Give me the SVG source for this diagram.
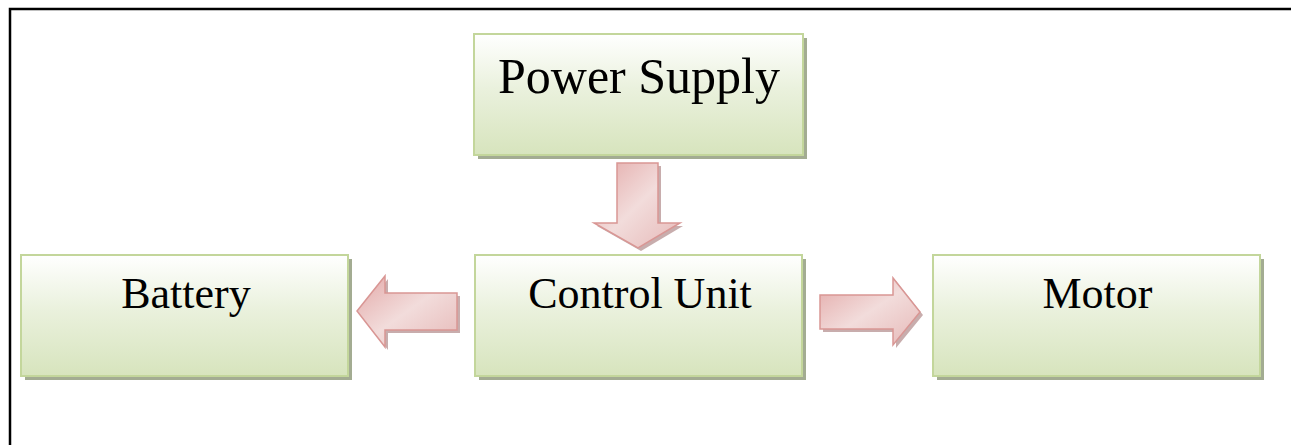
<svg xmlns="http://www.w3.org/2000/svg" width="1291" height="445" viewBox="0 0 1291 445">
<defs>
<linearGradient id="gb" x1="0" y1="0" x2="0" y2="1">
<stop offset="0" stop-color="#ffffff"/>
<stop offset="0.45" stop-color="#eaf1dd"/>
<stop offset="1" stop-color="#d7e4bd"/>
</linearGradient>
<linearGradient id="ga" x1="0" y1="0" x2="1" y2="1">
<stop offset="0" stop-color="#e3a9a8"/>
<stop offset="0.5" stop-color="#f2dcdb"/>
<stop offset="1" stop-color="#e6b9b8"/>
</linearGradient>
<style>
.sh{fill:#a3ac92}
.bx{fill:url(#gb);stroke:#c3d69b;stroke-width:2}
.t{font-family:"Liberation Serif","DejaVu Serif",serif;fill:#000;text-anchor:middle}
.ash{fill:#b08a8a;opacity:0.7}
.ar{fill:url(#ga);stroke:#d99694;stroke-width:1.5}
</style>
</defs>
<rect width="1291" height="445" fill="#fff"/>
<path d="M10,445 V9 H1291" fill="none" stroke="#000" stroke-width="2.5"/>
<g id="power-supply">
<rect class="sh" x="478" y="38" width="329" height="121"/>
<rect class="bx" x="474" y="34" width="329" height="121"/>
<text class="t" x="639" y="93" font-size="50">Power Supply</text>
</g>
<g id="battery">
<rect class="sh" x="25" y="259" width="327" height="121"/>
<rect class="bx" x="21" y="255" width="327" height="121"/>
<text class="t" x="186" y="308" font-size="44">Battery</text>
</g>
<g id="control-unit">
<rect class="sh" x="479" y="259" width="327" height="121"/>
<rect class="bx" x="475" y="255" width="327" height="121"/>
<text class="t" x="640" y="308" font-size="44">Control Unit</text>
</g>
<g id="motor">
<rect class="sh" x="937" y="259" width="327" height="121"/>
<rect class="bx" x="933" y="255" width="327" height="121"/>
<text class="t" x="1097.5" y="308" font-size="44">Motor</text>
</g>
<g id="connectors">
<path class="ash" transform="translate(3,3)" d="M617,163 H658 V223 H680 L638,248 L594,223 H617 Z"/>
<path class="ar" d="M617,163 H658 V223 H680 L638,248 L594,223 H617 Z"/>
<path class="ash" transform="translate(3,3)" d="M457,293 V330 H385 V347 L357,311 L385,276 V293 Z"/>
<path class="ar" d="M457,293 V330 H385 V347 L357,311 L385,276 V293 Z"/>
<path class="ash" transform="translate(3,3)" d="M820,295 H893 V278 L920,312 L893,345 V329 H820 Z"/>
<path class="ar" d="M820,295 H893 V278 L920,312 L893,345 V329 H820 Z"/>
</g>
</svg>
